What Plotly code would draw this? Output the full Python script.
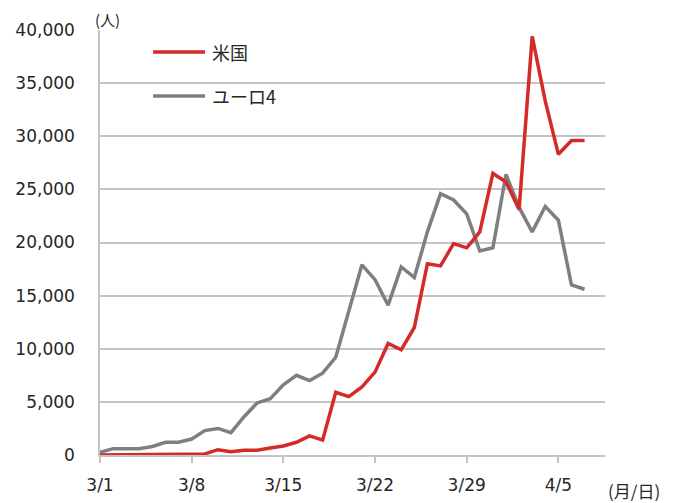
import pandas as pd
import plotly.graph_objects as go

dates = pd.date_range("2020-03-01", "2020-04-07", freq="D")

us_values = [10, 20, 30, 40, 50, 60, 80, 100, 100, 500, 300, 450, 450, 650, 850, 1200,
             1800, 1400, 5900, 5500, 6400, 7800, 10500, 9900, 12000, 18000, 17800, 19900,
             19500, 21000, 26500, 25700, 23100, 39400, 33300, 28300, 29600, 29600]

euro4_values = [260, 600, 600, 600, 800, 1200, 1200, 1500, 2300, 2500, 2100, 3600, 4900,
                5300, 6600, 7500, 7000, 7700, 9200, 13700, 17900, 16500, 14100, 17700, 16700,
                21000, 24600, 24000, 22700, 19200, 19500, 26400, 23300, 21000, 23400, 22100,
                16000, 15600]

series_names = ["米国", "ユーロ4"]
tick_dates = ["2020-03-01", "2020-03-08", "2020-03-15", "2020-03-22", "2020-03-29", "2020-04-05"]
tick_labels = ["3/1", "3/8", "3/15", "3/22", "3/29", "4/5"]

RED = "#D42A2A"
GRAY = "#7F7F7F"
GRID = "#C4C4C4"
TEXT = "#262626"
FONT = "DejaVu Sans"
JFONT = "Noto Sans CJK JP"

fig = go.Figure()
fig.add_trace(go.Scatter(x=dates, y=euro4_values, mode="lines", name=series_names[1],
                         line=dict(color=GRAY, width=3.5), showlegend=False))
fig.add_trace(go.Scatter(x=dates, y=us_values, mode="lines", name=series_names[0],
                         line=dict(color=RED, width=3.5), showlegend=False))

# the page adds an 8px body margin, so the figure is sized to fit the window
fig.update_layout(
    width=666, height=495,
    margin=dict(l=92, r=69, t=22, b=47.5),
    paper_bgcolor="white", plot_bgcolor="white",
    font=dict(family=FONT, size=17, color=TEXT),
)
fig.update_xaxes(
    type="date", range=["2020-03-01", "2020-04-08 13:26"],
    tickvals=tick_dates, ticktext=tick_labels, automargin=False,
    showgrid=False, showline=True, linecolor=GRID, linewidth=1.5,
    ticks="outside", ticklen=6, tickcolor=GRID, tickwidth=1.5,
    ticklabelstandoff=8,
    tickfont=dict(family=FONT, size=17, color=TEXT),
)
fig.update_yaxes(
    range=[0, 40000], dtick=5000, tickformat=",", automargin=False,
    showgrid=True, gridcolor=GRID, gridwidth=1.5,
    showline=True, linecolor=GRID, linewidth=1.5,
    zeroline=False, ticks="", ticklabelstandoff=20,
    tickfont=dict(family=FONT, size=17, color=TEXT),
)

# legend (drawn manually to match the reference layout)
legend_items = [(series_names[0], RED, 0.948), (series_names[1], GRAY, 0.845)]
for name, color, yp in legend_items:
    fig.add_shape(type="line", xref="paper", yref="paper", x0=0.105, x1=0.208, y0=yp, y1=yp,
                  line=dict(color=color, width=3.5))
    fig.add_annotation(xref="paper", yref="paper", x=0.218, y=yp, text=name, showarrow=False,
                       xanchor="left", yanchor="middle",
                       font=dict(family=JFONT, size=18, color=TEXT))

fig.add_annotation(xref="paper", yref="paper", x=0.014, y=1.025, text="(人)", showarrow=False,
                   xanchor="center", yanchor="middle", font=dict(family=JFONT, size=15, color=TEXT))
fig.add_annotation(xref="paper", yref="paper", x=1.057, y=-0.083, text="(月/日)", showarrow=False,
                   xanchor="center", yanchor="middle", font=dict(family=JFONT, size=17, color=TEXT))

fig.write_html("out.html")
